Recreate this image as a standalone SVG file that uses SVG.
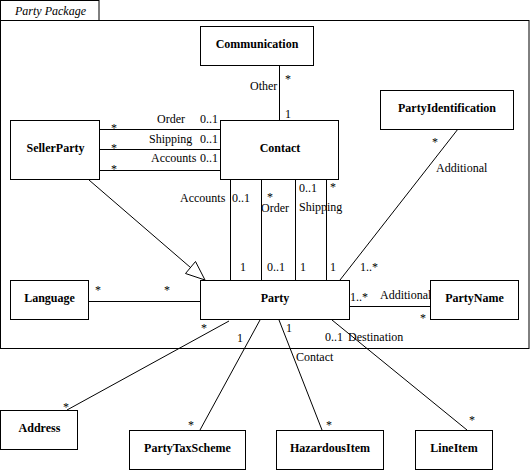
<svg xmlns="http://www.w3.org/2000/svg" width="530" height="470" viewBox="0 0 530 470">
<style>
.box{fill:#fff;stroke:#000;stroke-width:1}
.pkg{fill:none;stroke:#000;stroke-width:1}
.ln{fill:none;stroke:#000;stroke-width:1}
.nt{font-family:"Liberation Serif","Times New Roman",serif;font-size:12px;font-weight:bold;text-anchor:middle;fill:#000}
.lb{font-family:"Liberation Serif","Times New Roman",serif;font-size:12px;fill:#000}
.it{font-family:"Liberation Serif","Times New Roman",serif;font-size:12px;font-style:italic;fill:#000}
</style>
<rect width="530" height="470" fill="#fff"/>
<g id="package">
<rect class="pkg" x="0.5" y="0.5" width="98.5" height="20"/>
<rect class="pkg" x="0.5" y="20.5" width="528.5" height="328"/>
<text class="it" x="15" y="15">Party Package</text>
</g>
<g id="connectors">
<line class="ln" x1="279.5" y1="65" x2="279.5" y2="120"/>
<line class="ln" x1="100" y1="129.5" x2="220" y2="129.5"/>
<line class="ln" x1="100" y1="149.5" x2="220" y2="149.5"/>
<line class="ln" x1="100" y1="170.5" x2="220" y2="170.5"/>
<line class="ln" x1="230.5" y1="179" x2="230.5" y2="280"/>
<line class="ln" x1="261.5" y1="179" x2="261.5" y2="280"/>
<line class="ln" x1="295.5" y1="179" x2="295.5" y2="280"/>
<line class="ln" x1="326.5" y1="179" x2="326.5" y2="280"/>
<line class="ln" x1="89" y1="180" x2="190.5" y2="267.5"/>
<polygon points="205,280 185.5,273.5 195.5,261.5" fill="#fff" stroke="#000" stroke-width="1"/>
<line class="ln" x1="458" y1="129" x2="340" y2="280"/>
<line class="ln" x1="89" y1="301.5" x2="200" y2="301.5"/>
<line class="ln" x1="350" y1="306.5" x2="430" y2="306.5"/>
<line class="ln" x1="229" y1="321" x2="67" y2="410"/>
<line class="ln" x1="260" y1="320" x2="200" y2="430"/>
<line class="ln" x1="279" y1="320" x2="322" y2="430"/>
<line class="ln" x1="332" y1="320" x2="467" y2="430"/>
<text class="lb" x="250" y="90">Other</text>
<text class="lb" x="285" y="83">*</text>
<text class="lb" x="285" y="118">1</text>
<text class="lb" x="157" y="123">Order</text>
<text class="lb" x="200" y="123">0..1</text>
<text class="lb" x="111" y="132">*</text>
<text class="lb" x="149" y="143">Shipping</text>
<text class="lb" x="200" y="143">0..1</text>
<text class="lb" x="111" y="152">*</text>
<text class="lb" x="151" y="162">Accounts</text>
<text class="lb" x="200" y="162">0..1</text>
<text class="lb" x="111" y="173">*</text>
<text class="lb" x="180" y="202">Accounts</text>
<text class="lb" x="232" y="202">0..1</text>
<text class="lb" x="267" y="201">*</text>
<text class="lb" x="261" y="212">Order</text>
<text class="lb" x="299" y="192">0..1</text>
<text class="lb" x="330" y="191">*</text>
<text class="lb" x="299" y="211">Shipping</text>
<text class="lb" x="240" y="271">1</text>
<text class="lb" x="267" y="271">0..1</text>
<text class="lb" x="300" y="271">1</text>
<text class="lb" x="330" y="271">1</text>
<text class="lb" x="360" y="271">1..*</text>
<text class="lb" x="432" y="146">*</text>
<text class="lb" x="436" y="172">Additional</text>
<text class="lb" x="95" y="294">*</text>
<text class="lb" x="164" y="294">*</text>
<text class="lb" x="350" y="301">1..*</text>
<text class="lb" x="380" y="299">Additional</text>
<text class="lb" x="420" y="322">*</text>
<text class="lb" x="201" y="332">*</text>
<text class="lb" x="237" y="342">1</text>
<text class="lb" x="286" y="332">1</text>
<text class="lb" x="325" y="341">0..1</text>
<text class="lb" x="348" y="341">Destination</text>
<text class="lb" x="296" y="361">Contact</text>
<text class="lb" x="63" y="411">*</text>
<text class="lb" x="188" y="429">*</text>
<text class="lb" x="326" y="429">*</text>
<text class="lb" x="469" y="424">*</text>
</g>
<g id="communication"><rect class="box" x="200.5" y="26.5" width="113" height="39"/><text class="nt" x="257" y="48">Communication</text></g>
<g id="contact"><rect class="box" x="220.5" y="120.5" width="118" height="59"/><text class="nt" x="280" y="151.5">Contact</text></g>
<g id="sellerparty"><rect class="box" x="10.5" y="120.5" width="89" height="59"/><text class="nt" x="55.5" y="151.5">SellerParty</text></g>
<g id="partyidentification"><rect class="box" x="380.5" y="90.5" width="133" height="39"/><text class="nt" x="447" y="111.5">PartyIdentification</text></g>
<g id="language"><rect class="box" x="10.5" y="280.5" width="78" height="39"/><text class="nt" x="49.5" y="301.5">Language</text></g>
<g id="party"><rect class="box" x="200.5" y="280.5" width="149" height="39"/><text class="nt" x="275" y="301.5">Party</text></g>
<g id="partyname"><rect class="box" x="430.5" y="280.5" width="88" height="39"/><text class="nt" x="474.5" y="301.5">PartyName</text></g>
<g id="address"><rect class="box" x="0.5" y="410.5" width="77" height="39"/><text class="nt" x="39.5" y="431.5">Address</text></g>
<g id="partytaxscheme"><rect class="box" x="129.5" y="430.5" width="116" height="39"/><text class="nt" x="187.5" y="451.5">PartyTaxScheme</text></g>
<g id="hazardousitem"><rect class="box" x="276.5" y="430.5" width="107" height="39"/><text class="nt" x="330" y="451.5">HazardousItem</text></g>
<g id="lineitem"><rect class="box" x="415.5" y="430.5" width="77" height="39"/><text class="nt" x="454" y="451.5">LineItem</text></g>
</svg>
